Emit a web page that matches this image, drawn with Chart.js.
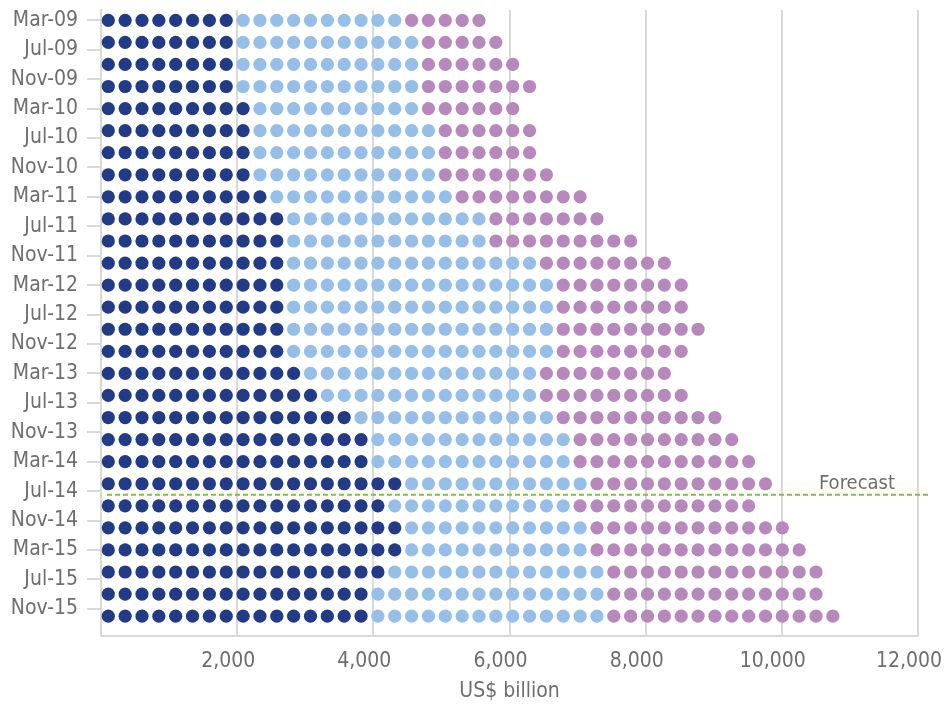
<!DOCTYPE html>
<html>
<head>
<meta charset="utf-8">
<title>US$ billion dot chart</title>
<script src="https://cdn.jsdelivr.net/npm/chart.js@4.4.1/dist/chart.umd.min.js"></script>
<style>
    html, body { margin: 0; padding: 0; background: #ffffff; }
    #dotChart { display: block; }
</style>
</head>
<body>
<canvas id="dotChart" width="951" height="704" style="width:951px;height:704px"></canvas>
<script>
// Quarter-end periods, one row of dots each
const periods = [
    'Mar-09', 'Jun-09', 'Sep-09', 'Dec-09',
    'Mar-10', 'Jun-10', 'Sep-10', 'Dec-10',
    'Mar-11', 'Jun-11', 'Sep-11', 'Dec-11',
    'Mar-12', 'Jun-12', 'Sep-12', 'Dec-12',
    'Mar-13', 'Jun-13', 'Sep-13', 'Dec-13',
    'Mar-14', 'Jun-14', 'Sep-14', 'Dec-14',
    'Mar-15', 'Jun-15', 'Sep-15', 'Dec-15'
];

// Labels shown on the left axis
const tickLabels = [
    'Mar-09', 'Jul-09', 'Nov-09', 'Mar-10', 'Jul-10', 'Nov-10',
    'Mar-11', 'Jul-11', 'Nov-11', 'Mar-12', 'Jul-12', 'Nov-12',
    'Mar-13', 'Jul-13', 'Nov-13', 'Mar-14', 'Jul-14', 'Nov-14',
    'Mar-15', 'Jul-15', 'Nov-15'
];

const xTicks = [0, 2000, 4000, 6000, 8000, 10000, 12000];

// Values in US$ billion (one dot = 250)
const darkBlueValues = [
    2000, 2000, 2000, 2000, 2250, 2250, 2250, 2250, 2500, 2750, 2750, 2750, 2750, 2750,
    2750, 2750, 3000, 3250, 3750, 4000, 4000, 4500, 4250, 4500, 4500, 4250, 4000, 4000
];
const lightBlueValues = [
    2500, 2750, 2750, 2750, 2500, 2750, 2750, 2750, 2750, 3000, 3000, 3750, 4000, 4000,
    4000, 4000, 3500, 3250, 3000, 3000, 3000, 2750, 2750, 2750, 2750, 3250, 3500, 3500
];
const purpleValues = [
    1250, 1250, 1500, 1750, 1500, 1500, 1500, 1750, 2000, 1750, 2250, 2000, 2000, 2000,
    2250, 2000, 2000, 2250, 2500, 2500, 2750, 2750, 2750, 3000, 3250, 3250, 3250, 3500
];

const forecastFrom = 'Sep-14';

const DOT_VALUE = 250;
const DOT_STEP = 247.5;
const DOT_START = 107;

const GRID = '#d9d9d9';
const TEXT = '#6e6e6e';
const FONT_FAMILY = '"DejaVu Sans Condensed", "Liberation Sans Narrow", sans-serif';
const axisFont = { family: FONT_FAMILY, size: 21 };

const MONTHS = ['Jan', 'Feb', 'Mar', 'Apr', 'May', 'Jun', 'Jul', 'Aug', 'Sep', 'Oct', 'Nov', 'Dec'];

// months counted from the first period
function monthIndex(label) {
    const [mon, yy] = label.split('-');
    const year = 2000 + Number(yy);
    return (year - 2009) * 12 + MONTHS.indexOf(mon) - 2;
}

function buildDots(seriesList) {
    const out = seriesList.map(() => []);
    periods.forEach((period, row) => {
        let k = 0;
        seriesList.forEach((values, s) => {
            const count = Math.round(values[row] / DOT_VALUE);
            for (let i = 0; i < count; i++) {
                out[s].push({ x: DOT_START + k * DOT_STEP, y: monthIndex(period) });
                k++;
            }
        });
    });
    return out;
}

const dots = buildDots([darkBlueValues, lightBlueValues, purpleValues]);

// Dashed forecast divider + label
const forecastLine = {
    id: 'forecastLine',
    afterDatasetsDraw(chart) {
        const { ctx, chartArea, scales } = chart;
        const i = periods.indexOf(forecastFrom);
        const mid = (monthIndex(periods[i - 1]) + monthIndex(periods[i])) / 2;
        const yPos = scales.y.getPixelForValue(mid);

        ctx.save();
        ctx.strokeStyle = '#7cc142';
        ctx.lineWidth = 2;
        ctx.setLineDash([5, 3]);
        ctx.beginPath();
        ctx.moveTo(chartArea.left + 6, yPos);
        ctx.lineTo(chart.width - 21, yPos);
        ctx.stroke();

        ctx.setLineDash([]);
        ctx.fillStyle = TEXT;
        ctx.font = '20px ' + FONT_FAMILY;
        ctx.textAlign = 'right';
        ctx.textBaseline = 'alphabetic';
        ctx.fillText('Forecast', chartArea.right - 23, yPos - 6);
        ctx.restore();
    }
};

function makeDataset(label, data, color) {
    return {
        label: label,
        data: data,
        backgroundColor: color,
        borderWidth: 0,
        pointRadius: 6.6,
        pointHoverRadius: 6.6,
        pointBorderWidth: 0
    };
}

const ctx = document.getElementById('dotChart').getContext('2d');
new Chart(ctx, {
    type: 'scatter',
    data: {
        datasets: [
            makeDataset('Series 1', dots[0], '#233a85'),
            makeDataset('Series 2', dots[1], '#96bee6'),
            makeDataset('Series 3', dots[2], '#b788bc')
        ]
    },
    options: {
        responsive: false,
        animation: false,
        layout: { padding: { top: 10, right: 33, left: 0, bottom: 0 } },
        plugins: {
            legend: { display: false },
            tooltip: { enabled: false }
        },
        scales: {
            x: {
                type: 'linear',
                min: 0,
                max: 12000,
                afterFit: function (scale) {
                    scale.height = 68;
                    scale.paddingLeft = 0;
                    scale.paddingRight = 0;
                },
                afterBuildTicks: function (scale) {
                    scale.ticks = xTicks.map(v => ({ value: v }));
                },
                grid: { color: GRID, lineWidth: 2, drawTicks: false },
                border: { color: GRID, width: 2 },
                ticks: {
                    padding: 13,
                    labelOffset: -9,
                    color: TEXT,
                    font: axisFont,
                    maxRotation: 0,
                    callback: function (value) {
                        return value === 0 ? '' : value.toLocaleString('en-US');
                    }
                },
                title: {
                    display: true,
                    text: 'US$ billion',
                    color: TEXT,
                    font: axisFont,
                    padding: { top: 0, bottom: 0 }
                }
            },
            y: {
                type: 'linear',
                reverse: true,
                min: -1.4,
                max: 83.7,
                afterFit: function (scale) {
                    scale.width = 101;
                    scale.paddingTop = 0;
                    scale.paddingBottom = 0;
                },
                afterBuildTicks: function (scale) {
                    scale.ticks = tickLabels.map(l => ({ value: monthIndex(l) }));
                },
                grid: { drawOnChartArea: false, drawTicks: true, tickLength: 14, color: GRID, lineWidth: 2 },
                border: { color: GRID, width: 2 },
                ticks: {
                    padding: 9,
                    color: TEXT,
                    font: axisFont,
                    callback: function (value, index) {
                        return tickLabels[index];
                    }
                }
            }
        }
    },
    plugins: [forecastLine]
});
</script>
</body>
</html>
